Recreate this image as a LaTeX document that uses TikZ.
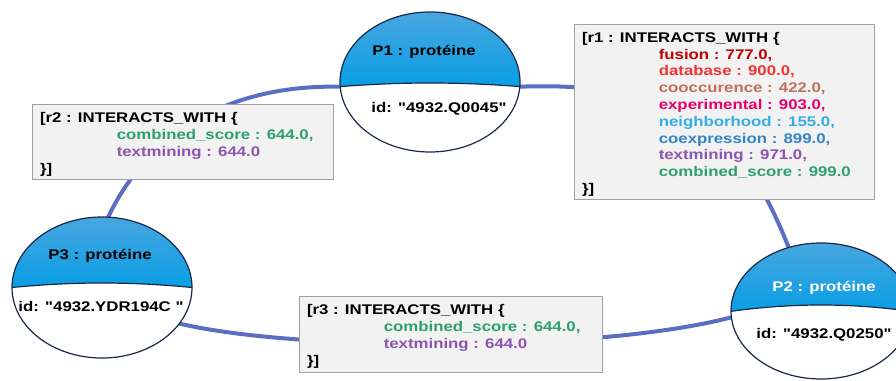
\documentclass[tikz,border=0pt]{standalone}
\usepackage{fontspec}
\setmainfont{Liberation Sans}[Ligatures=TeXOff]
\usepackage{graphicx}
\usetikzlibrary{shapes.geometric}
\definecolor{linkc}{RGB}{92,110,196}
\definecolor{boxfill}{RGB}{242,242,242}
\definecolor{boxline}{RGB}{160,160,160}
\definecolor{btop}{RGB}{72,166,224}
\definecolor{bbot}{RGB}{8,158,228}
\definecolor{ellline}{RGB}{26,40,74}
\definecolor{cfus}{RGB}{192,0,0}
\definecolor{cdb}{RGB}{240,52,52}
\definecolor{ccoo}{RGB}{192,112,90}
\definecolor{cexp}{RGB}{230,0,106}
\definecolor{cnei}{RGB}{54,174,228}
\definecolor{ccoe}{RGB}{52,132,198}
\definecolor{ctxt}{RGB}{139,85,176}
\definecolor{ccomb}{RGB}{46,160,112}
\newcommand{\relind}{\hspace*{64pt}}
\newcommand{\sxb}[1]{\scalebox{1.2}[1]{#1}}
\newcommand{\reltext}[2]{\raisebox{0pt}[\dimexpr\height+2pt\relax][\dimexpr\depth-2pt\relax]{\makebox[#1][l]{\scalebox{1.2}[1]{\begin{tabular}{@{}l@{}}#2\end{tabular}}}}}
\newcommand{\protfill}[5]{%
  \begin{scope}[shift={(#1.center)}]
    \begin{scope}
      \clip (0,0) ellipse [x radius=#2pt, y radius=#3pt];
      \fill[white] (-100,-100) rectangle (100,100);
      \shade[top color=btop, bottom color=bbot] (-95,#4) .. controls (-30,#5) and (30,#5) .. (95,#4) -- (95,#3) -- (-95,#3) -- cycle;
      \draw[ellline, line width=1.2pt] (-95,#4) .. controls (-30,#5) and (30,#5) .. (95,#4);
    \end{scope}
    \draw[ellline, line width=1.2pt] (0,0) ellipse [x radius=#2pt, y radius=#3pt];
  \end{scope}}
\tikzset{
  protshape/.style={ellipse, minimum width=180pt, minimum height=140pt, inner sep=0pt, outer sep=0pt},
  link/.style={draw=linkc, line width=4pt},
  relbox/.style={draw=boxline, fill=boxfill, line width=1pt, inner xsep=8pt, inner ysep=0pt},
  ptext/.style={inner sep=0pt}
}
\begin{document}
\begin{tikzpicture}[x=1pt, y=1pt, font=\fontsize{14}{16.8}\selectfont\bfseries]
\useasboundingbox (0,0) rectangle (896,380);
\fill[white] (0,0) rectangle (896,380);
% protein nodes (shapes)
\node[protshape] (P1) at (430,298) {};
\node[protshape, minimum height=136pt] (P2) at (821,69) {};
\node[protshape, minimum height=141pt] (P3) at (102,92.5) {};
% connectors
\draw[link] (P1.183) .. controls (200,296) and (135,220) .. (P3.85);
\draw[link] (P3.-25) .. controls (300,28) and (600,28) .. (P2.184);
\draw[link] (P1.-3) .. controls (700,300) and (750,230) .. (P2.117);
% relation boxes
\node[relbox, minimum width=300pt, minimum height=175pt] (r1) at (724,267.5) {\reltext{284pt}{%
{[}r1 : INTERACTS\_WITH \{\\
\relind\textcolor{cfus}{fusion : 777.0,}\\
\relind\textcolor{cdb}{database : 900.0,}\\
\relind\textcolor{ccoo}{cooccurence : 422.0,}\\
\relind\textcolor{cexp}{experimental : 903.0,}\\
\relind\textcolor{cnei}{neighborhood : 155.0,}\\
\relind\textcolor{ccoe}{coexpression : 899.0,}\\
\relind\textcolor{ctxt}{textmining : 971.0,}\\
\relind\textcolor{ccomb}{combined\_score : 999.0}\\
\}{]}}};
\node[relbox, minimum width=301pt, minimum height=75pt] (r2) at (182.5,237.5) {\reltext{285pt}{%
{[}r2 : INTERACTS\_WITH \{\\
\relind\textcolor{ccomb}{combined\_score : 644.0,}\\
\relind\textcolor{ctxt}{textmining : 644.0}\\
\}{]}}};
\node[relbox, minimum width=303pt, minimum height=75pt] (r3) at (450.5,45.5) {\reltext{287pt}{%
{[}r3 : INTERACTS\_WITH \{\\
\relind\textcolor{ccomb}{combined\_score : 644.0,}\\
\relind\textcolor{ctxt}{textmining : 644.0}\\
\}{]}}};
% protein fills
\protfill{P1}{90}{70}{-5}{0.33}
\protfill{P2}{90}{68}{-1}{8.33}
\protfill{P3}{90}{70.5}{-0.5}{6.17}
% protein texts
\node[ptext] (P1t) at (424,328) {\sxb{P1 : protéine}};
\node[ptext] (P1i) at (439,271.5) {\sxb{id: "4932.Q0045"}};
\node[ptext, text=white] (P2t) at (824,92) {\sxb{P2 : protéine}};
\node[ptext] (P2i) at (824,45) {\sxb{id: "4932.Q0250"}};
\node[ptext] (P3t) at (100,124.5) {\sxb{P3 : protéine}};
\node[ptext] (P3i) at (101,73) {\sxb{id: "4932.YDR194C\ "}};
\end{tikzpicture}
\end{document}
